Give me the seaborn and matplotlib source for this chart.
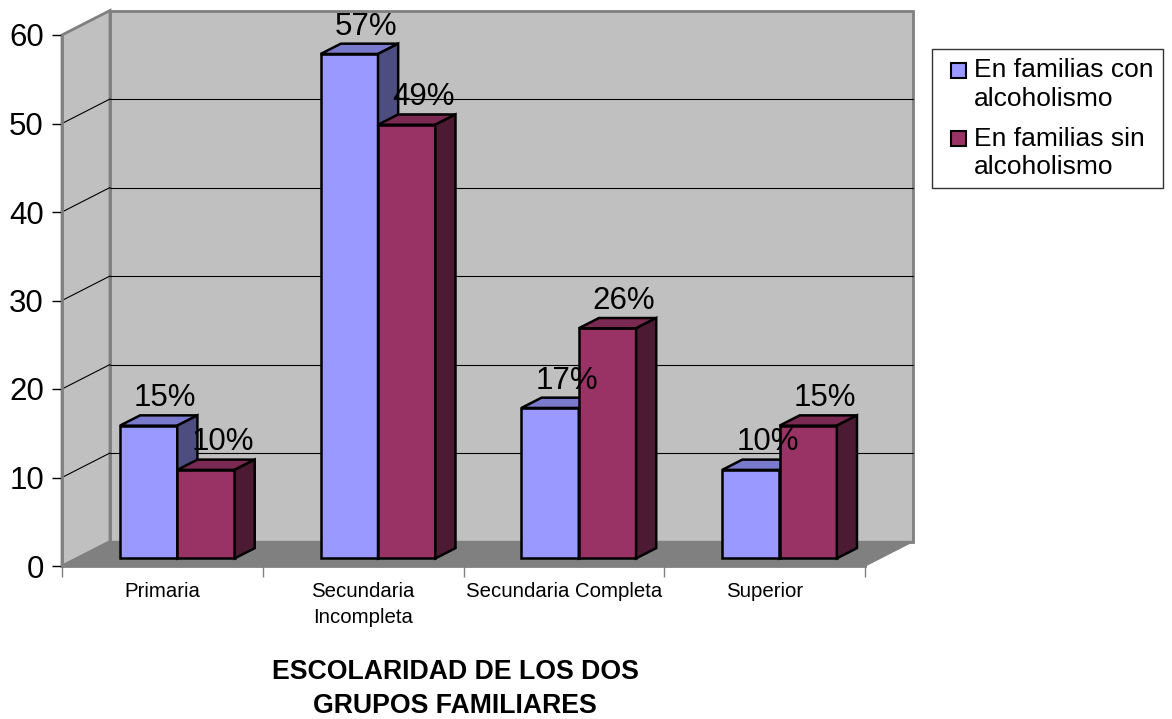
import numpy as np
import pandas as pd
import matplotlib
matplotlib.use("Agg")
import matplotlib.pyplot as plt
import matplotlib.patches as mpatches
import matplotlib.transforms as mtransforms
from matplotlib.legend_handler import HandlerPatch
import seaborn as sns

categorias = ["Primaria", "Secundaria\nIncompleta", "Secundaria Completa", "Superior"]
con_alcoholismo = [15, 57, 17, 10]
sin_alcoholismo = [10, 49, 26, 15]
grupos = ["En familias con\nalcoholismo", "En familias sin\nalcoholismo"]
y_ticks = [0, 10, 20, 30, 40, 50, 60]
titulo = "ESCOLARIDAD DE LOS DOS\nGRUPOS FAMILIARES"

# front / top / side colours per group
col_front = ["#9999FF", "#993366"]
col_top = ["#7A7ACC", "#7A2952"]
col_side = ["#4D4D80", "#4D1A33"]

sns.set_theme(style="white")
plt.rcParams["font.family"] = ["Liberation Sans", "DejaVu Sans"]
plt.rcParams["text.color"] = "black"
plt.rcParams["xtick.labelcolor"] = "black"
plt.rcParams["ytick.labelcolor"] = "black"
plt.rcParams["axes.labelcolor"] = "black"

df = pd.DataFrame({
    "categoria": categorias * 2,
    "valor": con_alcoholismo + sin_alcoholismo,
    "grupo": [grupos[0]] * 4 + [grupos[1]] * 4,
})

W, H = 1172, 719
fig = plt.figure(figsize=(W / 100, H / 100), dpi=100)
fig.patch.set_facecolor("white")
ax = fig.add_axes([62 / W, (H - 566) / H, 803 / W, 531 / H])
ax.patch.set_facecolor("none")

sns.barplot(data=df, x="categoria", y="valor", hue="grupo", order=categorias,
            hue_order=grupos, palette=col_front, width=0.571, saturation=1,
            edgecolor="black", linewidth=1.8, errorbar=None, legend=False, ax=ax)
bars = list(ax.patches)
ax.set_xlim(-0.5, 3.5)
ax.set_ylim(0, 60)
ax.set_ylabel("")

# depth vector of the 3D box, in data units
inv = ax.transData.inverted()
DX, DY = inv.transform((48, 24.5)) - inv.transform((0, 0))

# walls and floor
ax.add_patch(mpatches.Rectangle((-0.5 + DX, DY), 4, 60, fc="#C0C0C0", ec="#808080",
                                lw=2, zorder=0, clip_on=False))
ax.add_patch(mpatches.Polygon([(-0.5, 0), (-0.5, 60), (-0.5 + DX, 60 + DY), (-0.5 + DX, DY)],
                              fc="#C0C0C0", ec="#808080", lw=2, zorder=0, clip_on=False))
ax.add_patch(mpatches.Polygon([(-0.5, 0), (3.5, 0), (3.5 + DX, DY), (-0.5 + DX, DY)],
                              fc="#808080", ec="#808080", lw=1, zorder=0.6, clip_on=False))
for v in y_ticks[1:-1]:
    ax.plot([-0.5 + DX, 3.5 + DX], [v + DY, v + DY], color="black", lw=0.8, zorder=0.5, clip_on=False)
    ax.plot([-0.5, -0.5 + DX], [v, v + DY], color="black", lw=0.8, zorder=0.5, clip_on=False)

# bars sit in the middle of the depth
shift = mtransforms.Affine2D().translate(0.31 * DX, 0.31 * DY) + ax.transData
bdx, bdy = 0.42 * DX, 0.42 * DY
for i, p in enumerate(bars):
    g = i // len(categorias)
    z = 2 + g
    p.set_transform(shift)
    p.set_zorder(z)
    x, w, h = p.get_x(), p.get_width(), p.get_height()
    top = [(x, h), (x + w, h), (x + w + bdx, h + bdy), (x + bdx, h + bdy)]
    side = [(x + w, 0), (x + w, h), (x + w + bdx, h + bdy), (x + w + bdx, bdy)]
    ax.add_patch(mpatches.Polygon(top, fc=col_top[g], ec="black", lw=1.8,
                                  transform=shift, zorder=z + 0.1, clip_on=False))
    ax.add_patch(mpatches.Polygon(side, fc=col_side[g], ec="black", lw=1.8,
                                  transform=shift, zorder=z + 0.2, clip_on=False))
    ax.annotate(f"{h:.0f}%", xy=(x + w / 2, h), xycoords=shift, xytext=(12, 14),
                textcoords="offset points", ha="center", va="baseline",
                fontsize=22.5, color="black", zorder=10)

# axes
ax.set_yticks(y_ticks)
ax.tick_params(axis="y", left=True, direction="out", length=7, width=1,
               color="black", labelsize=22.5, pad=6)
ax.set_xticks([-0.5, 0.5, 1.5, 2.5, 3.5], minor=True)
ax.tick_params(axis="x", which="minor", bottom=True, direction="out", length=8,
               width=1, color="#808080")
ax.tick_params(axis="x", which="major", length=0, labelsize=14.7, pad=11.5)
for t in ax.get_xticklabels():
    t.set_linespacing(1.5)
for s in ["top", "right"]:
    ax.spines[s].set_visible(False)
for s in ["left", "bottom"]:
    ax.spines[s].set_color("#808080")
    ax.spines[s].set_linewidth(2)

ax.set_xlabel(titulo, fontsize=19.2, fontweight="bold", va="center", linespacing=1.42)
ax.xaxis.set_label_coords((455 - 62) / 803, (566 - 689) / 531)


def square(legend, orig_handle, xdescent, ydescent, width, height, fontsize):
    # small square beside the first line of a two-line label
    s = 0.57 * fontsize
    return mpatches.Rectangle((-xdescent + width - s, -ydescent + 0.62 * fontsize), s, s)


handles = [mpatches.Patch(fc=c, ec="black", lw=1.5) for c in col_front]
leg = fig.legend(handles, grupos, loc="upper left", bbox_to_anchor=(932 / W, 1 - 49 / H),
                 fontsize=19, frameon=True, fancybox=False, shadow=False,
                 handlelength=0.95, handleheight=0.7, handletextpad=0.3,
                 borderpad=0.35, labelspacing=0.6, borderaxespad=0,
                 handler_map={mpatches.Patch: HandlerPatch(patch_func=square)})
leg.get_frame().set_edgecolor("black")
leg.get_frame().set_linewidth(1)
for t in leg.get_texts():
    t.set_linespacing(1.24)

fig.savefig("out.png", dpi=100)
